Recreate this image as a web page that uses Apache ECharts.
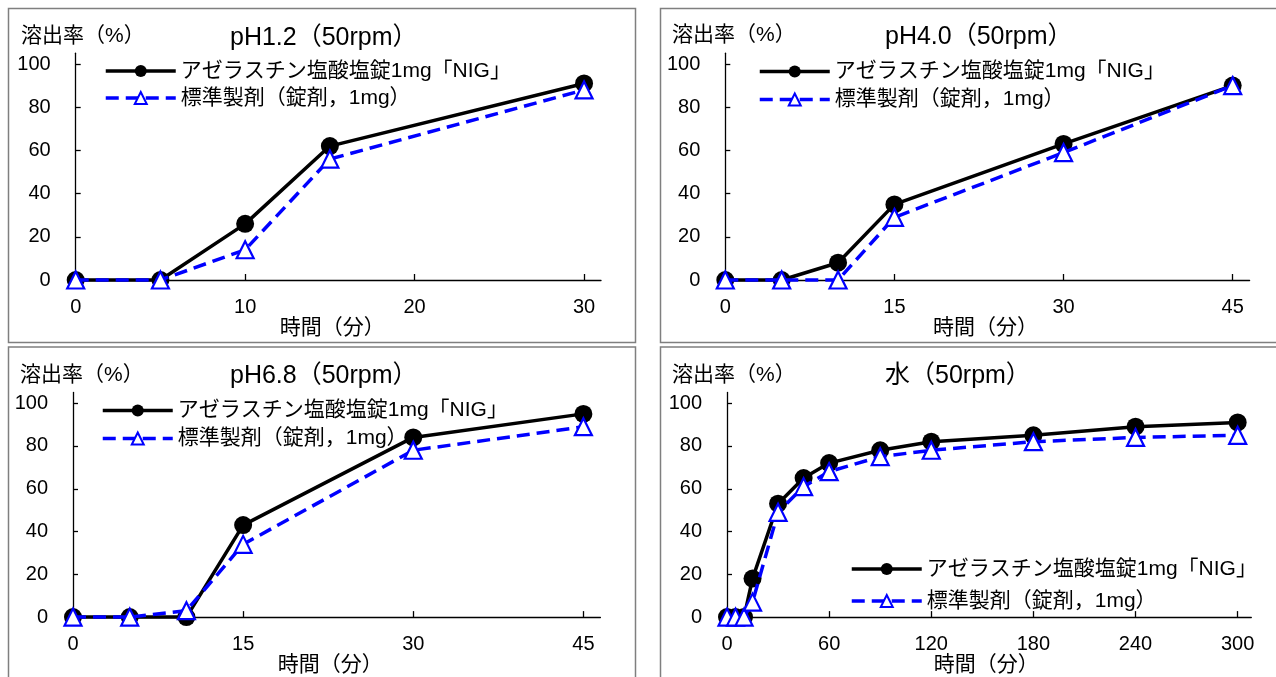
<!DOCTYPE html>
<html>
<head>
<meta charset="utf-8">
<script src="https://cdn.jsdelivr.net/npm/echarts@6/dist/echarts.min.js"></script>
<style>
html,body{margin:0;padding:0;background:#fff;}
#c{width:1276px;height:677px;}
</style>
</head>
<body>
<div id="c"></div>
<script>
// ---- data ----
const seriesNames = ['アゼラスチン塩酸塩錠1mg「NIG」', '標準製剤（錠剤，1mg）'];
const panelTitles = ['pH1.2（50rpm）', 'pH4.0（50rpm）', 'pH6.8（50rpm）', '水（50rpm）'];
const yAxisTitle = '溶出率（%）';
const xAxisTitle = '時間（分）';
const yTicks = [0, 20, 40, 60, 80, 100];
const xTicks1 = [0, 10, 20, 30];
const xTicks2 = [0, 15, 30, 45];
const xTicks3 = [0, 15, 30, 45];
const xTicks4 = [0, 60, 120, 180, 240, 300];

const time1 = [0, 5, 10, 15, 30];
const test1 = [0, 0, 26, 62, 91];
const ref1  = [0, 0, 14, 56, 88];

const time2 = [0, 5, 10, 15, 30, 45];
const test2 = [0, 0, 8, 35, 63, 90];
const ref2  = [0, 0, 0, 29, 59, 90];

const time3 = [0, 5, 10, 15, 30, 45];
const test3 = [0, 0, 0, 43, 84, 95];
const ref3  = [0, 0, 3, 34, 78, 89];

const time4 = [0, 5, 10, 15, 30, 45, 60, 90, 120, 180, 240, 300];
const test4 = [0, 0, 0, 18, 53, 65, 72, 78, 82, 85, 89, 91];
const ref4  = [0, 0, 0, 7, 49, 61, 68, 75, 78, 82, 84, 85];

// ---- build ----
const FONT = '"Liberation Sans", Arial, "Noto Sans CJK JP", sans-serif';
const zip = (t, v) => t.map((x, i) => [x, v[i]]);

const panels = [
  {time: time1, test: test1, ref: ref1, xt: xTicks1, xmax: 31,
   grid: {left: 75.7, top: 53.2, width: 525.3, height: 226.8},
   box: [8.5, 8.5, 627, 334], title: [230, 25.5], ylab: [21, 26], legend: [104, 60.5, 6], xnamePad: 12},
  {time: time2, test: test2, ref: ref2, xt: xTicks2, xmax: 46.5,
   grid: {left: 725.3, top: 53.2, width: 524.3, height: 226.8},
   box: [660.5, 8.5, 630, 334], title: [885, 25], ylab: [672, 25], legend: [758, 61, 7], xnamePad: 4},
  {time: time3, test: test3, ref: ref3, xt: xTicks3, xmax: 46.5,
   grid: {left: 73, top: 392.5, width: 527.4, height: 226.8},
   box: [8.5, 347, 627, 340], title: [230, 363.5], ylab: [20, 364.5], legend: [101, 400, 7], xnamePad: 13},
  {time: time4, test: test4, ref: ref4, xt: xTicks4, xmax: 308,
   grid: {left: 727, top: 392.5, width: 524.3, height: 226.8},
   box: [660.5, 347, 630, 340], title: [885, 364], ylab: [672, 364.5], legend: [850, 558.5, 11], xnamePad: 6}
];

const grids = [], xAxes = [], yAxes = [], series = [], titles = [], legends = [], graphics = [];

panels.forEach((p, i) => {
  graphics.push({type: 'rect', shape: {x: p.box[0], y: p.box[1], width: p.box[2], height: p.box[3]},
    style: {fill: 'none', stroke: '#7f7f7f', lineWidth: 1.5}, z: -1, silent: true});
  grids.push(Object.assign({containLabel: false}, p.grid));
  xAxes.push({
    type: 'value', gridIndex: i, min: 0, max: p.xmax,
    name: xAxisTitle, nameLocation: 'middle', nameGap: 37,
    nameTextStyle: {fontFamily: FONT, fontSize: 21, color: '#000', padding: [0, p.xnamePad, 0, 0]},
    axisLine: {show: true, onZero: false, lineStyle: {color: '#000', width: 1.3}},
    axisTick: {show: true, inside: true, length: 6, customValues: p.xt, lineStyle: {color: '#000', width: 1.3}},
    axisLabel: {customValues: p.xt, fontFamily: FONT, fontSize: 20, color: '#000', margin: 17,
      formatter: v => (p.xt.indexOf(v) >= 0 ? String(v) : '')},
    splitLine: {show: false}
  });
  yAxes.push({
    type: 'value', gridIndex: i, min: 0, max: 105,
    axisLine: {show: true, onZero: false, lineStyle: {color: '#000', width: 1.3}},
    axisTick: {show: true, inside: true, length: 5, customValues: yTicks, lineStyle: {color: '#000', width: 1.3}},
    axisLabel: {customValues: yTicks, fontFamily: FONT, fontSize: 20, color: '#000', margin: 25,
      formatter: v => (yTicks.indexOf(v) >= 0 ? String(v) : '')},
    splitLine: {show: false}
  });
  series.push({
    name: seriesNames[0], type: 'line', xAxisIndex: i, yAxisIndex: i,
    data: zip(p.time, p.test), clip: false,
    symbol: 'circle', symbolSize: 18,
    lineStyle: {color: '#000', width: 3.5},
    itemStyle: {color: '#000'},
    emphasis: {disabled: true}, animation: false, z: 2
  });
  series.push({
    name: seriesNames[1], type: 'line', xAxisIndex: i, yAxisIndex: i,
    data: zip(p.time, p.ref), clip: false,
    symbol: 'triangle', symbolSize: 17,
    lineStyle: {color: '#0000ff', width: 3.5, type: [13, 7]},
    itemStyle: {color: '#ffffff', borderColor: '#0000ff', borderWidth: 2.2},
    emphasis: {disabled: true}, animation: false, z: 3
  });
  titles.push({text: panelTitles[i], left: p.title[0], top: p.title[1], padding: 0,
    textStyle: {fontFamily: FONT, fontSize: 25, fontWeight: 'normal', color: '#000', lineHeight: 25}});
  titles.push({text: yAxisTitle, left: p.ylab[0], top: p.ylab[1], padding: 0,
    textStyle: {fontFamily: FONT, fontSize: 21, fontWeight: 'normal', color: '#000', lineHeight: 21}});
  legends.push({
    orient: 'vertical', left: p.legend[0], top: p.legend[1], padding: 0,
    itemWidth: 70, itemHeight: 15, itemGap: p.legend[2], selectedMode: false,
    data: seriesNames,
    lineStyle: {width: 3.5},
    textStyle: {fontFamily: FONT, fontSize: 21, color: '#000', lineHeight: 21}
  });
});

const chart = echarts.init(document.getElementById('c'), null, {renderer: 'canvas'});
chart.setOption({
  backgroundColor: '#fff',
  animation: false,
  title: titles,
  legend: legends,
  grid: grids,
  xAxis: xAxes,
  yAxis: yAxes,
  series: series,
  graphic: graphics
});
</script>
</body>
</html>
